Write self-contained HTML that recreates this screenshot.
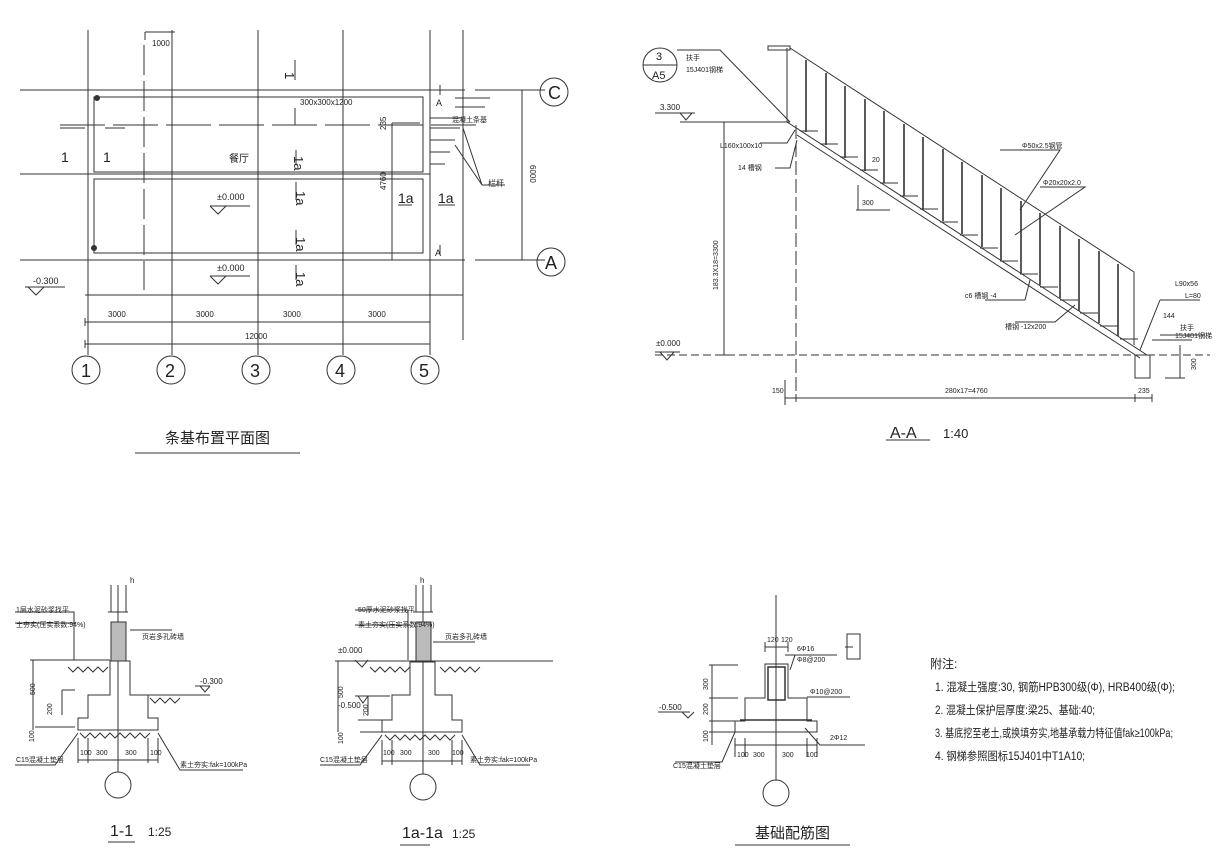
<!DOCTYPE html>
<html><head><meta charset="utf-8"><style>
html,body{margin:0;padding:0;background:#fff;}
svg{display:block;}
text{font-family:"Liberation Sans","Noto Sans CJK SC",sans-serif;fill:#222;}
</style></head><body>
<svg width="1218" height="860" viewBox="0 0 1218 860" xmlns="http://www.w3.org/2000/svg">
<rect width="1218" height="860" fill="#fff"/>
<g stroke="#333" stroke-width="1" fill="none">
<!-- PLAN -->
<path d="M88 30V355 M172 30V355 M258 30V355 M343 30V355 M430 30V355 M463 30V340"/>
<path d="M144 45V290" stroke-dasharray="30 6"/>
<path d="M20 90H465 M20 174H430 M20 260H465 M85 295H463"/>
<path d="M60 125H480" stroke-dasharray="45 8"/>
<rect x="94" y="97" width="329" height="75"/>
<rect x="94" y="179" width="329" height="74"/>
<circle cx="97" cy="98" r="2.5" fill="#333"/><circle cx="94" cy="248" r="2.5" fill="#333"/>
<path d="M85 322H430 M85 344H430 M85 318v8 M172 318v8 M258 318v8 M343 318v8 M430 318v8 M85 340v8 M430 340v8"/>
<path d="M522 90V260 M475 90H545 M475 260H545 M518 90h8 M518 260h8"/>
<circle cx="554" cy="92" r="14"/><circle cx="551" cy="262" r="14"/>
<circle cx="86" cy="370" r="14"/><circle cx="171" cy="370" r="14"/><circle cx="256" cy="370" r="14"/><circle cx="341" cy="370" r="14"/><circle cx="425" cy="370" r="14"/>
<path d="M430 118H463 M430 128H460 M430 140H455 M430 152H450 M430 164H445 M463 128L482 185 M455 145L482 185 M482 185H505"/>
<path d="M455 107H485 M455 98H490"/>
<path d="M392 123H420 M392 123V260"/>
<path d="M145 32H175 M145 32V40"/>
<path d="M295 60V80 M295 108V125 M296 150V165 M296 182V200 M296 230V245 M296 265V280 M440 85V95 M440 245V255"/>
<path d="M60 128H85 M105 128H125 M398 205H412 M438 205H455"/>
<path d="M210 206H250 M210 206L218 214L226 206 M210 276H250 M210 276L218 284L226 276 M25 287H65 M28 287L36 295L44 287"/>
<path d="M135 453H300"/>
<!-- STAIR A-A -->
<path d="M768 46H790V50H768Z M790 48L1134 272V345 M787 48V122"/>
<path d="M787 122L1147 355 M797 135L1140 358"/>
<path d="M806 60v72 M826 73v72 M845 86v72 M865 99v72 M884 111v72 M904 124v72 M923 137v72 M943 149v72 M962 162v72 M982 175v72 M1001 188v72 M1021 201v72 M1040 213v72 M1060 226v72 M1079 239v72 M1099 251v72 M1118 264v72" stroke-width="1.6"/>
<path d="M800 131h18 M820 144h18 M840 157h18 M860 170h18 M880 183h18 M900 196h18 M920 209h18 M940 222h18 M960 235h18 M980 248h18 M1000 261h18 M1020 274h18 M1040 287h18 M1060 300h18 M1080 313h18 M1100 326h18 M1120 339h18"/>
<path d="M655 355H1210" stroke-dasharray="8 4"/>
<path d="M796 125V400" stroke-dasharray="14 4"/>
<path d="M724 122V355 M680 122H790 M720 122h8 M720 355h8"/>
<path d="M785 398H1152 M796 394v8 M1135 394v8 M1152 394v8 M785 380v25"/>
<path d="M1135 355h15v23h-15z M1152 340h40 M1180 345V378 M1165 378H1185"/>
<path d="M655 113H695 M680 113L686 120L692 113 M655 352H680 M660 352L667 360L674 352"/>
<circle cx="660" cy="65" r="17"/><path d="M643 65H677 M677 50H720 L790 122"/>
<path d="M760 143H787 L795 130 M775 168H790 L797 140"/>
<path d="M858 185V210H886 M856 210H890"/>
<path d="M1000 150H1060 L1020 210 M1040 187H1085 L1015 235 M985 300H1025 L1030 280 M1015 322H1055 L1075 305 M1160 300H1200 M1160 300L1140 350 M1160 335H1205"/>
<path d="M886 440H930"/>
<!-- SECTION 1-1 -->
<path d="M118 585V772 M111 585V612 M126 585V612 M108 612h20"/>
<rect x="111" y="622" width="15" height="39" fill="#bbb"/>
<path d="M110 661V695H88V718H78V730H158V718H148V695H130V661Z"/>
<path d="M30 660H110 M148 695H210 M60 660H75 M35 727H75 M33 660V730 M62 690H75 M62 690V715"/>
<path d="M68 667l5 5 5-5 5 5 5-5 5 5 5-5 5 5 5-5 M150 698l5 5 5-5 5 5 5-5 5 5 5-5 M80 733l5 5 5-5 5 5 5-5 5 5 5-5 5 5 5-5 5 5 5-5 5 5 5-5 5 5 5-5"/>
<path d="M78 760H158 M78 738V763 M88 738V763 M148 738V763 M158 738V763"/>
<path d="M15 612H74V660 M15 623H76 M130 630H172 M78 733L55 765H15 M158 733L180 770H243 M195 686H210 M200 686L205 692L210 686"/>
<circle cx="118" cy="785" r="13"/>
<path d="M108 842H135"/>
<!-- SECTION 1a-1a -->
<path d="M423 585V774 M416 585V612 M431 585V612 M413 612h20"/>
<rect x="416" y="622" width="15" height="40" fill="#bbb"/>
<path d="M410 662V695H392V720H382V732H462V720H452V695H435V662Z"/>
<path d="M335 661H553 M338 661V732 M355 696H375 M358 696L363 703L368 696 M355 660L362 667L368 660 M358 696H390 M358 720H390 M360 732H385 M368 696V715"/>
<path d="M370 667l5 5 5-5 5 5 5-5 5 5 5-5 5 5 5-5 M440 667l5 5 5-5 5 5 5-5 5 5 5-5 5 5 5-5 M385 735l5 5 5-5 5 5 5-5 5 5 5-5 5 5 5-5 5 5 5-5 5 5 5-5 5 5 5-5"/>
<path d="M382 761H462 M382 740V765 M392 740V765 M452 740V765 M462 740V765"/>
<path d="M355 610H408V660 M355 625H410 M433 642H475 M382 735L360 765H320 M462 735L480 765H530"/>
<circle cx="423" cy="787" r="13"/>
<path d="M400 845H430"/>
<!-- BASE REINFORCEMENT -->
<path d="M776 595V780"/>
<path d="M765 664V698H745V721H735V732H817V721H807V698H788V664Z"/>
<path d="M768 667H785V700H768Z" stroke-width="1.5"/>
<path d="M740 720H812" stroke-width="1.5"/>
<path d="M709 665H738 M709 698H738 M709 721H738 M709 732H738 M712 665V745 M658 712H690 M682 712L688 718L694 712"/>
<path d="M735 745H817 M735 738V757 M745 738V757 M807 738V757 M817 738V757 M765 647H788 M765 642V652 M788 642V652"/>
<path d="M785 655H795 L790 670 M795 655H837 M807 697H850 M805 728L820 745H865 M735 732L722 762H675"/>
<rect x="847" y="634" width="13" height="25"/><path d="M845 647H853"/>
<circle cx="776" cy="793" r="13"/>
<path d="M735 845H850"/>
</g>
<g stroke="none">
<text x="152" y="46" font-size="8">1000</text>
<text x="300" y="105" font-size="8">300x300x1200</text>
<text x="452" y="122" font-size="7">混凝土条基</text>
<text x="229" y="162" font-size="10">餐厅</text>
<text x="217" y="200" font-size="9">±0.000</text>
<text x="217" y="271" font-size="9">±0.000</text>
<text x="33" y="284" font-size="9">-0.300</text>
<text x="61" y="162" font-size="14">1</text><text x="103" y="162" font-size="14">1</text>
<text x="289" y="76" font-size="13" transform="rotate(90 289 72)">1</text>
<text x="298" y="160" font-size="13" transform="rotate(90 298 156)">1a</text>
<text x="300" y="195" font-size="13" transform="rotate(90 300 191)">1a</text>
<text x="300" y="241" font-size="13" transform="rotate(90 300 237)">1a</text>
<text x="300" y="276" font-size="13" transform="rotate(90 300 272)">1a</text>
<text x="398" y="203" font-size="14">1a</text><text x="438" y="203" font-size="14">1a</text>
<text x="436" y="106" font-size="9">A</text><text x="435" y="256" font-size="9">A</text>
<text x="488" y="186" font-size="8">栏杆</text>
<text x="108" y="317" font-size="8">3000</text><text x="196" y="317" font-size="8">3000</text><text x="283" y="317" font-size="8">3000</text><text x="368" y="317" font-size="8">3000</text>
<text x="245" y="339" font-size="8">12000</text>
<text x="535" y="160" font-size="8" transform="rotate(90 530 160)">6000</text>
<text x="386" y="190" font-size="8" transform="rotate(-90 386 190)">4760</text>
<text x="386" y="130" font-size="8" transform="rotate(-90 386 130)">235</text>
<text x="548" y="99" font-size="18">C</text><text x="545" y="269" font-size="18">A</text>
<text x="81" y="377" font-size="18">1</text><text x="165" y="377" font-size="18">2</text><text x="250" y="377" font-size="18">3</text><text x="335" y="377" font-size="18">4</text><text x="419" y="377" font-size="18">5</text>
<text x="165" y="443" font-size="15">条基布置平面图</text>
<text x="656" y="60" font-size="11">3</text><text x="652" y="79" font-size="11">A5</text>
<text x="686" y="60" font-size="7">扶手</text><text x="686" y="72" font-size="7">15J401钢梯</text>
<text x="660" y="110" font-size="8">3.300</text>
<text x="720" y="148" font-size="7">L160x100x10</text>
<text x="738" y="170" font-size="7">14 槽钢</text>
<text x="1022" y="148" font-size="7">Φ50x2.5钢管</text>
<text x="1043" y="185" font-size="7">Φ20x20x2.0</text>
<text x="965" y="298" font-size="7">c6 槽钢 -4</text>
<text x="1005" y="329" font-size="7">槽钢 -12x200</text>
<text x="1175" y="286" font-size="7">L90x56</text><text x="1185" y="298" font-size="7">L=80</text>
<text x="1180" y="330" font-size="7">扶手</text><text x="1175" y="338" font-size="7">15J401钢梯</text>
<text x="1163" y="318" font-size="7">144</text>
<text x="862" y="205" font-size="7">300</text>
<text x="872" y="162" font-size="7">20</text>
<text x="656" y="346" font-size="8">±0.000</text>
<text x="718" y="290" font-size="7" transform="rotate(-90 718 290)">183.3X18=3300</text>
<text x="772" y="393" font-size="7">150</text>
<text x="945" y="393" font-size="7">280x17=4760</text>
<text x="1138" y="393" font-size="7">235</text>
<text x="1196" y="370" font-size="7" transform="rotate(-90 1196 370)">300</text>
<text x="890" y="438" font-size="16">A-A</text><text x="943" y="438" font-size="13">1:40</text>
<text x="130" y="583" font-size="8">h</text>
<text x="16" y="612" font-size="7">1层水泥砂浆找平</text>
<text x="16" y="627" font-size="7">土夯实(压实系数:94%)</text>
<text x="142" y="639" font-size="7">页岩多孔砖墙</text>
<text x="200" y="684" font-size="8">-0.300</text>
<text x="35" y="695" font-size="7" transform="rotate(-90 35 695)">500</text>
<text x="52" y="715" font-size="7" transform="rotate(-90 52 715)">200</text>
<text x="34" y="742" font-size="7" transform="rotate(-90 34 742)">100</text>
<text x="80" y="755" font-size="7">100</text><text x="96" y="755" font-size="7">300</text><text x="125" y="755" font-size="7">300</text><text x="150" y="755" font-size="7">100</text>
<text x="16" y="762" font-size="7">C15混凝土垫层</text>
<text x="180" y="767" font-size="7">素土夯实:fak=100kPa</text>
<text x="110" y="836" font-size="16">1-1</text><text x="148" y="836" font-size="12">1:25</text>
<text x="420" y="583" font-size="8">h</text>
<text x="358" y="612" font-size="7">50厚水泥砂浆找平</text>
<text x="358" y="627" font-size="7">素土夯实(压实系数:94%)</text>
<text x="445" y="639" font-size="7">页岩多孔砖墙</text>
<text x="338" y="653" font-size="8">±0.000</text>
<text x="338" y="708" font-size="8">-0.500</text>
<text x="343" y="698" font-size="7" transform="rotate(-90 343 698)">500</text>
<text x="368" y="716" font-size="7" transform="rotate(-90 368 716)">200</text>
<text x="343" y="744" font-size="7" transform="rotate(-90 343 744)">100</text>
<text x="383" y="755" font-size="7">100</text><text x="400" y="755" font-size="7">300</text><text x="428" y="755" font-size="7">300</text><text x="452" y="755" font-size="7">100</text>
<text x="320" y="762" font-size="7">C15混凝土垫层</text>
<text x="470" y="762" font-size="7">素土夯实:fak=100kPa</text>
<text x="402" y="838" font-size="16">1a-1a</text><text x="452" y="838" font-size="12">1:25</text>
<text x="767" y="642" font-size="7">120</text><text x="781" y="642" font-size="7">120</text>
<text x="797" y="651" font-size="7">6Φ16</text><text x="797" y="662" font-size="7">Φ8@200</text>
<text x="810" y="694" font-size="7">Φ10@200</text>
<text x="830" y="740" font-size="7">2Φ12</text>
<text x="659" y="710" font-size="8">-0.500</text>
<text x="708" y="690" font-size="7" transform="rotate(-90 708 690)">300</text>
<text x="708" y="715" font-size="7" transform="rotate(-90 708 715)">200</text>
<text x="708" y="742" font-size="7" transform="rotate(-90 708 742)">100</text>
<text x="737" y="757" font-size="7">100</text><text x="753" y="757" font-size="7">300</text><text x="782" y="757" font-size="7">300</text><text x="806" y="757" font-size="7">100</text>
<text x="673" y="768" font-size="7">C15混凝土垫层</text>
<text x="755" y="838" font-size="15">基础配筋图</text>
<text x="930" y="668" font-size="12">附注:</text>
<text x="935" y="691" font-size="11.5" textLength="240" lengthAdjust="spacingAndGlyphs">1. 混凝土强度:30, 钢筋HPB300级(Φ), HRB400级(Φ);</text>
<text x="935" y="714" font-size="11.5" textLength="160" lengthAdjust="spacingAndGlyphs">2. 混凝土保护层厚度:梁25、基础:40;</text>
<text x="935" y="737" font-size="11.5" textLength="238" lengthAdjust="spacingAndGlyphs">3. 基底挖至老土,或换填夯实,地基承载力特征值fak≥100kPa;</text>
<text x="935" y="760" font-size="11.5" textLength="150" lengthAdjust="spacingAndGlyphs">4. 钢梯参照图标15J401中T1A10;</text>
</g>
</svg>
</body></html>
